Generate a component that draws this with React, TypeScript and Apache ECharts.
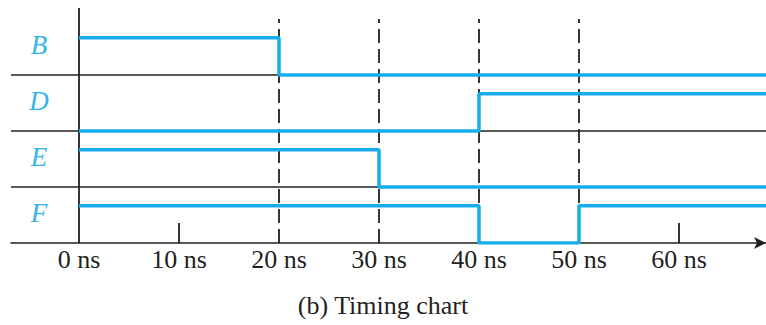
import React, { useEffect, useRef } from "react";
import * as echarts from "echarts";

// Signal names (top to bottom) and their transition times (ns) / logic levels
const signalNames = ["B", "D", "E", "F"];
const transitionTimes: number[][] = [
  [0, 20],
  [0, 40],
  [0, 30],
  [0, 40, 50],
];
const levels: number[][] = [
  [1, 0],
  [0, 1],
  [1, 0],
  [1, 0, 1],
];
const tickValues = [0, 10, 20, 30, 40, 50, 60];
const tickLabels = ["0 ns", "10 ns", "20 ns", "30 ns", "40 ns", "50 ns", "60 ns"];
const shortTicks = [10, 60];
const dashedTimes = [20, 30, 40, 50];
const caption = "(b) Timing chart";

const X_MIN = -6.8;
const X_MAX = 68.7;
const ROW_STEP = 1.5;
const Y_MAX = 6.295;
const DASH_TOP = 6;
const LABEL_OFFSET = 0.8;

const BLUE = "#17adea";
const INK = "#231f20";

export default function App() {
  const ref = useRef<HTMLDivElement>(null);
  useEffect(() => {
    if (!ref.current) return;
    const chart = echarts.init(ref.current, null, { renderer: "svg" });
    const n = signalNames.length;
    const baseOf = (i: number) => (n - 1 - i) * ROW_STEP;

    const signalSeries = signalNames.map((name, i) => {
      const base = baseOf(i);
      const pts = transitionTimes[i].map((t, k) => [t, base + levels[i][k]]);
      pts.push([X_MAX, base + levels[i][levels[i].length - 1]]);
      return {
        name,
        type: "line",
        step: "end",
        data: pts,
        showSymbol: false,
        symbol: "none",
        z: 5,
        lineStyle: { color: BLUE, width: 3.5 },
        silent: true,
      };
    });

    const labelValues = signalNames.map((_, i) => baseOf(i) + LABEL_OFFSET);
    const rowLines = signalNames.slice(0, n - 1).map((_, i) => ({ yAxis: baseOf(i) }));

    const helper = {
      type: "line",
      data: [],
      silent: true,
      markLine: {
        silent: true,
        symbol: "none",
        label: { show: false },
        animation: false,
        data: [
          ...rowLines.map((d) => ({ ...d, lineStyle: { color: INK, width: 1.5, type: "solid" } })),
          { xAxis: 0, lineStyle: { color: INK, width: 1.8, type: "solid" } },
          ...dashedTimes.map((t) => [
            { coord: [t, 0], lineStyle: { color: INK, width: 1.8, type: [14, 6] } },
            { coord: [t, DASH_TOP] },
          ]),
        ],
      },
    };

    chart.setOption({
      animation: false,
      title: {
        text: caption,
        left: "center",
        top: 287,
        textStyle: {
          fontFamily: "Liberation Serif",
          fontSize: 26,
          fontWeight: "normal",
          color: INK,
        },
      },
      grid: { left: 11, right: 0, top: 8, bottom: 82 },
      xAxis: {
        type: "value",
        min: X_MIN,
        max: X_MAX,
        axisLine: {
          show: true,
          onZero: false,
          symbol: ["none", "arrow"],
          symbolSize: [9, 12],
          lineStyle: { color: INK, width: 1.5 },
        },
        axisTick: {
          show: true,
          customValues: shortTicks,
          inside: true,
          length: 20,
          lineStyle: { color: INK, width: 1.8 },
        },
        axisLabel: {
          show: true,
          customValues: tickValues,
          formatter: (v: number) => tickLabels[tickValues.indexOf(Math.round(v))] ?? "",
          fontFamily: "Liberation Serif",
          fontSize: 26,
          color: INK,
          margin: 3,
        },
        splitLine: { show: false },
      },
      yAxis: {
        type: "value",
        min: 0,
        max: Y_MAX,
        axisLine: { show: false },
        axisTick: { show: false },
        splitLine: { show: false },
        axisLabel: {
          show: true,
          inside: true,
          customValues: labelValues,
          formatter: (v: number) => {
            let best = 0;
            labelValues.forEach((lv, k) => {
              if (Math.abs(lv - v) < Math.abs(labelValues[best] - v)) best = k;
            });
            return signalNames[best];
          },
          align: "center",
          margin: 28,
          fontFamily: "Liberation Serif",
          fontStyle: "italic",
          fontSize: 27,
          color: "#33b3ea",
        },
      },
      series: [helper, ...signalSeries],
    });
    return () => chart.dispose();
  }, []);
  return (
    <div
      ref={ref}
      style={{ position: "fixed", left: 0, top: 0, width: 766, height: 325, background: "#fff" }}
    />
  );
}
